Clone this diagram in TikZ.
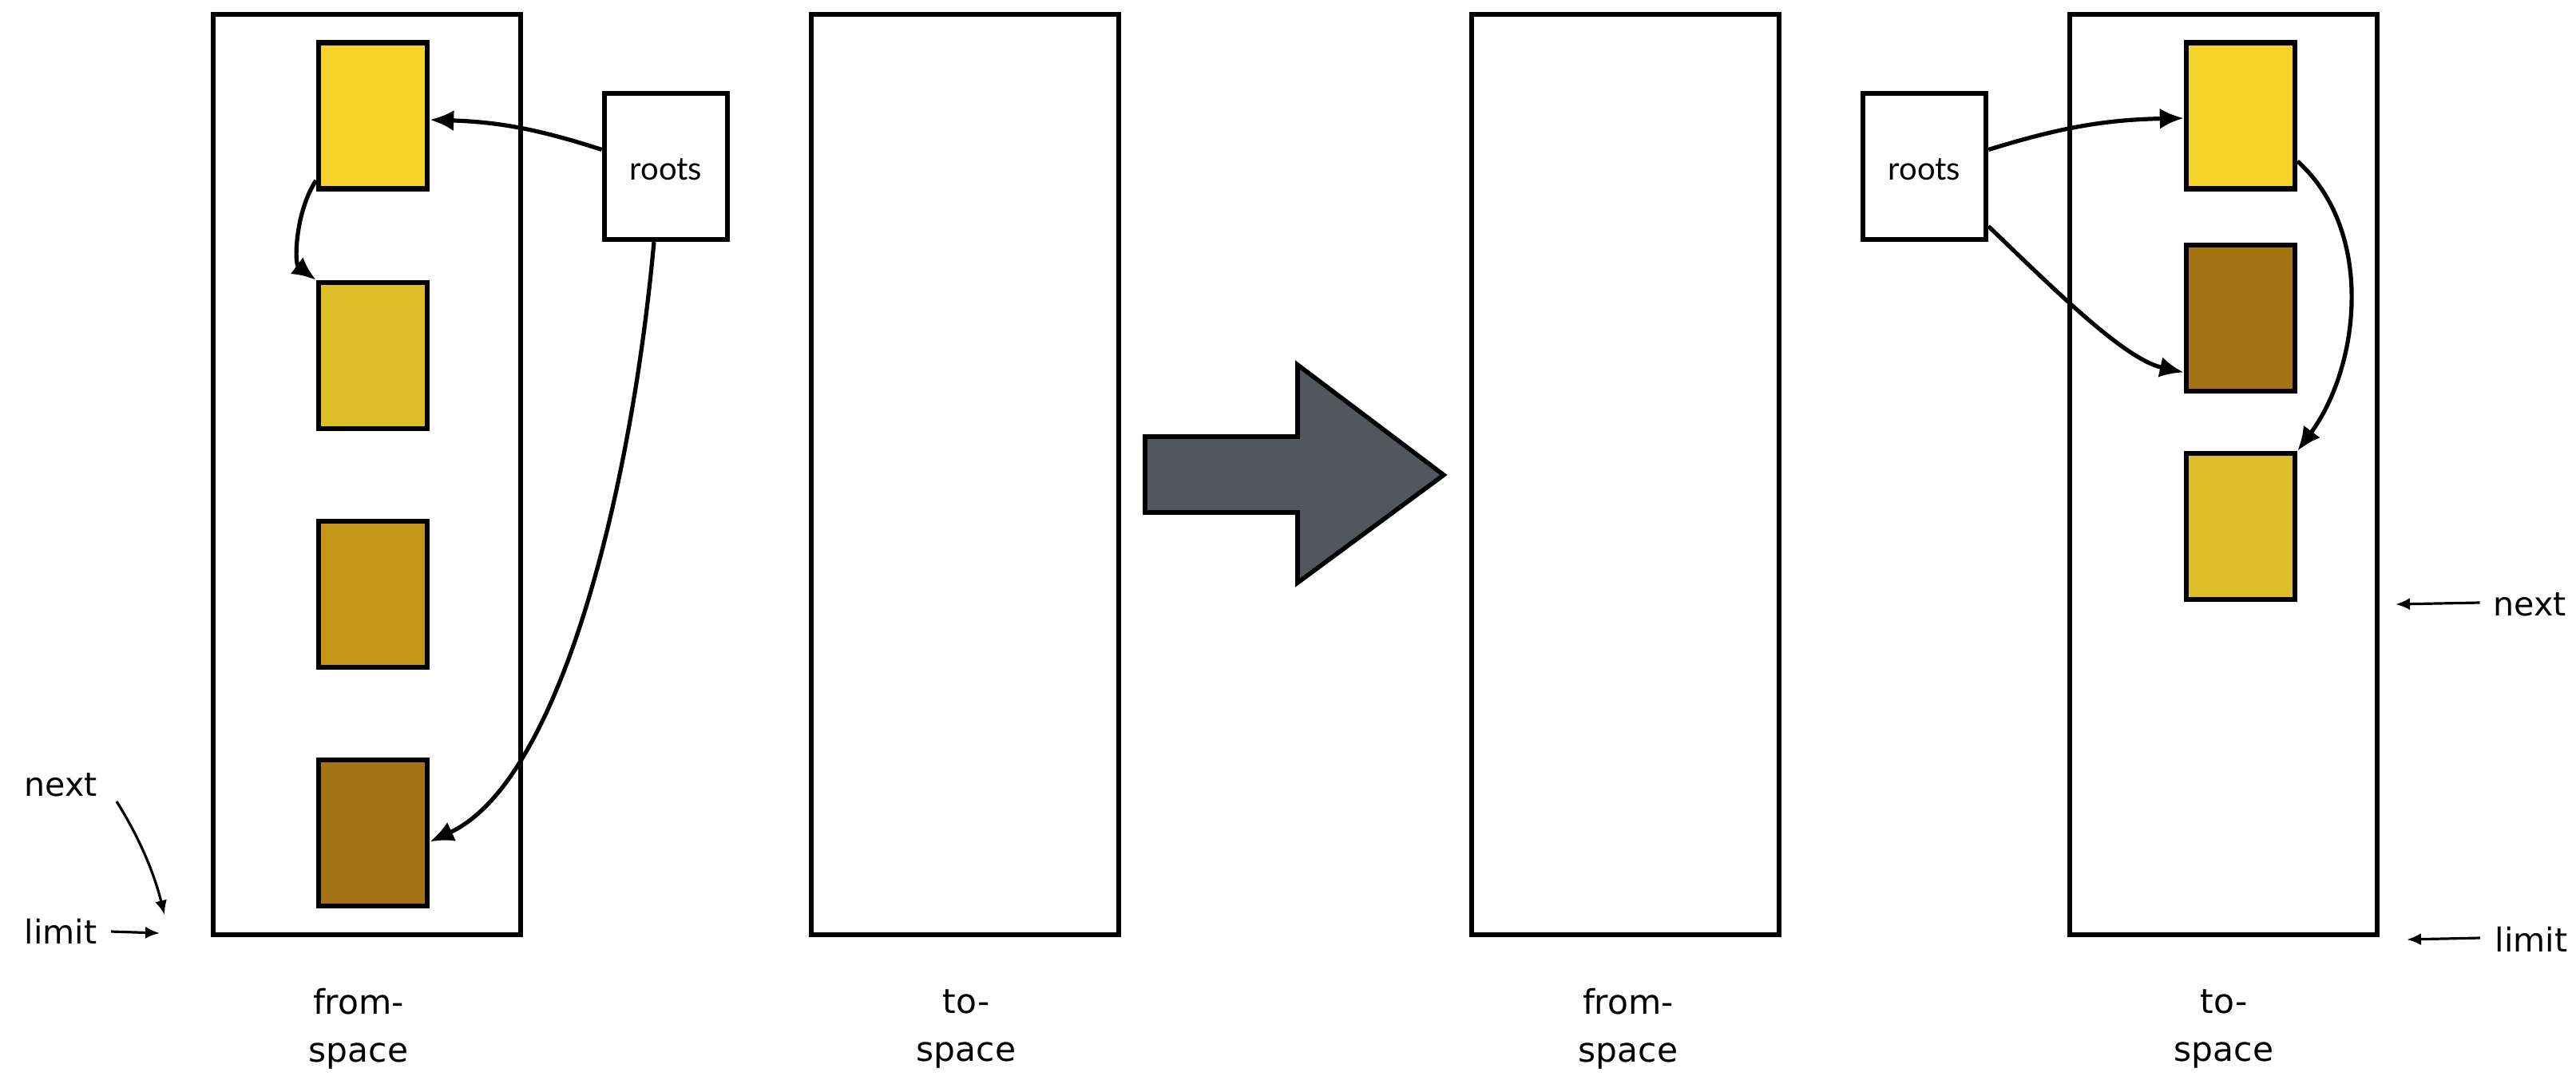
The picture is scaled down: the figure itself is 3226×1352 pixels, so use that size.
\documentclass[tikz,border=0pt]{standalone}
\usepackage{fontspec}
\setmainfont{DejaVu Sans}
\newfontfamily\rootsfont{Lato}
\usetikzlibrary{arrows.meta,calc}
\definecolor{objA}{HTML}{F6D32B}
\definecolor{objB}{HTML}{DDBE28}
\definecolor{objC}{HTML}{C4961A}
\definecolor{objD}{HTML}{A37314}
\definecolor{bigarrow}{HTML}{52575E}
\begin{document}
\begin{tikzpicture}[x=0.25pt,y=-0.25pt,
  membox/.style={draw,line width=1.5pt,minimum width=96.25pt,minimum height=288.25pt,inner sep=0pt},
  objbox/.style={draw,line width=1.6pt,minimum width=34pt,minimum height=45.75pt,inner sep=0pt},
  rootbox/.style={draw,line width=1.6pt,fill=white,minimum width=38.5pt,minimum height=45.75pt,inner sep=0pt},
  rootstxt/.style={font=\rootsfont\fontsize{10}{12}\selectfont},
  ptr/.style={-{Latex[length=7.5pt,width=6.5pt]},line width=1.3pt},
  thin/.style={-{Latex[length=4.5pt,width=3.8pt]},line width=0.8pt},
  lbl/.style={font=\fontsize{10.6}{15}\selectfont,align=center,inner sep=0pt},
  side/.style={font=\fontsize{10.3}{12}\selectfont,inner sep=0pt}]
\useasboundingbox (0,0) rectangle (3226,1352);
\fill[white] (0,0) rectangle (3226,1352);

% memory spaces
\node[membox] (fromL) at (459.5,594.5) {};
\node[membox] (toL) at (1208.5,594.5) {};
\node[membox] (fromR) at (2035.5,594.5) {};
\node[membox] (toR) at (2784.5,594.5) {};

% labels under spaces
\node[lbl] (lfromL) at (449,1289) {from-\\space};
\node[lbl] (ltoL) at (1210,1289) {to-\\space};
\node[lbl] (lfromR) at (2039,1289) {from-\\space};
\node[lbl] (ltoR) at (2785,1289) {to-\\space};

% objects in left from-space
\node[objbox,fill=objA] (o1) at (467,145) {};
\node[objbox,fill=objB] (o2) at (467,445.5) {};
\node[objbox,fill=objC] (o3) at (467,744.5) {};
\node[objbox,fill=objD] (o4) at (467,1043.5) {};

% objects in right to-space
\node[objbox,fill=objA] (p1) at (2806,145) {};
\node[objbox,fill=objD] (p2) at (2806,398.5) {};
\node[objbox,fill=objB] (p3) at (2806,659.5) {};

% roots
\node[rootbox] (rootsL) at (834,208.5) {};
\node[rootstxt] (rtL) at (834,212) {roots};
\node[rootbox] (rootsR) at (2410,208.5) {};
\node[rootstxt] (rtR) at (2410,212) {roots};

% big arrow
\filldraw[fill=bigarrow,draw=black,line width=1.4pt,line join=miter]
  (1434,547) -- (1625,547) -- (1625,457) -- (1808,595) -- (1625,730) -- (1625,642) -- (1434,642) -- cycle;

% pointers, left
\draw[ptr] ($(rootsL.west)+(0,-21)$) to[bend right=8] ($(o1.east)+(0,5)$);
\draw[ptr] ($(o1.west)+(0,81)$) .. controls (370,265) and (368,330) .. (o2.north west);
\draw[ptr] ($(rootsL.south)+(-15,0)$) .. controls (790,620) and (700,980) .. ($(o4.east)+(0,11)$);

% pointers, right
\draw[ptr] ($(rootsR.east)+(0,-21)$) to[bend left=8] ($(p1.west)+(0,3)$);
\draw[ptr] ($(rootsR.east)+(0,75)$) .. controls (2570,360) and (2660,450) .. ($(p2.west)+(0,68)$);
\draw[ptr] ($(p1.east)+(0,57)$) .. controls (2975,290) and (2955,460) .. (p3.north east);

% next / limit, left
\node[side] (nextL) at (76,983) {next};
\node[side] (limitL) at (76,1167) {limit};
\coordinate (nextLs) at (146,1004);
\coordinate (nextLe) at (206,1146);
\coordinate (limitLe) at (200,1169);
\draw[thin] (nextLs) .. controls (172,1045) and (192,1090) .. (nextLe);
\draw[thin] ($(limitL.east)+(17,0)$) -- (limitLe);

% next / limit, right
\node[side] (nextR) at (3168,757) {next};
\node[side] (limitR) at (3170,1177) {limit};
\coordinate (nextRe) at (3000,757);
\coordinate (limitRe) at (3014,1177);
\draw[thin] ($(nextR.west)+(-16,-2)$) -- (nextRe);
\draw[thin] ($(limitR.west)+(-18,-2)$) -- (limitRe);
\end{tikzpicture}
\end{document}
